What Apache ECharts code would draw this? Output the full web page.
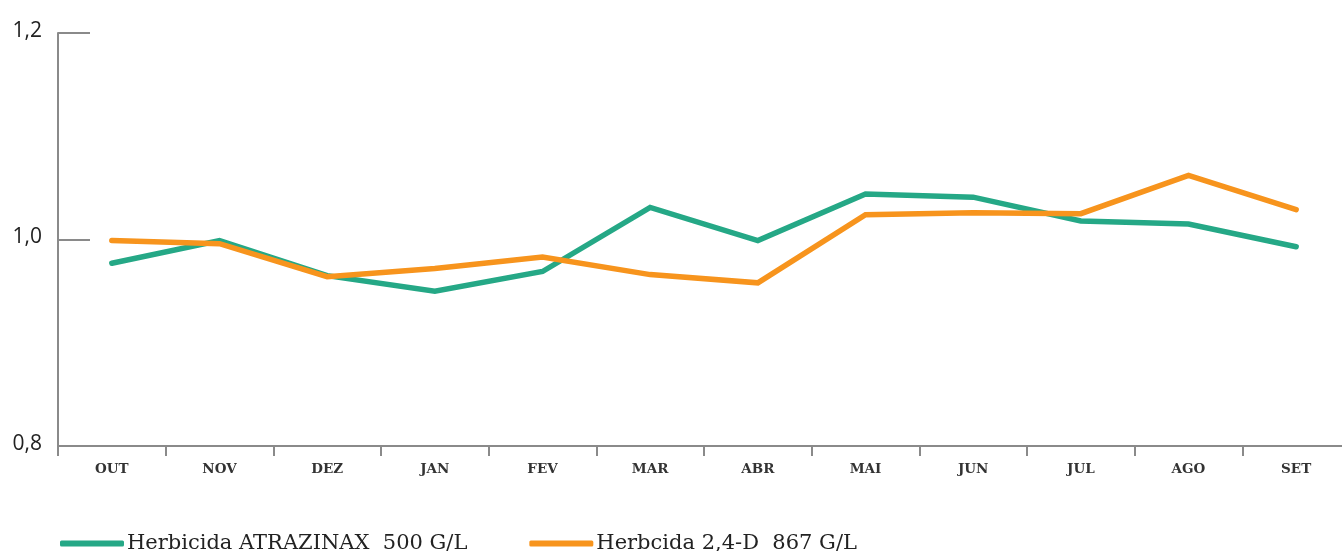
<!DOCTYPE html>
<html>
<head>
<meta charset="utf-8">
<script src="https://cdn.jsdelivr.net/npm/echarts@6/dist/echarts.min.js"></script>
<style>
  html, body { margin: 0; padding: 0; background: #fff; }
  #chart { width: 1342px; height: 551px; }
</style>
</head>
<body>
<div id="chart"></div>
<script>
// Monthly index values for two herbicides
const months = ['OUT', 'NOV', 'DEZ', 'JAN', 'FEV', 'MAR', 'ABR', 'MAI', 'JUN', 'JUL', 'AGO', 'SET'];
const atrazinax = [0.977, 0.999, 0.965, 0.950, 0.969, 1.031, 0.999, 1.044, 1.041, 1.018, 1.015, 0.993];
const d24 = [0.999, 0.996, 0.964, 0.972, 0.983, 0.966, 0.958, 1.024, 1.026, 1.025, 1.062, 1.029];
const seriesNames = ['Herbicida ATRAZINAX  500 G/L', 'Herbcida 2,4-D  867 G/L'];
const yTicks = { min: 0.8, max: 1.2, interval: 0.2 };

const GREEN = '#25a886';
const ORANGE = '#f7941d';
const AXIS = '#8a8a8a';

const chart = echarts.init(document.getElementById('chart'));
chart.setOption({
  animation: false,
  grid: { left: 58, width: 1292, top: 33, height: 413, outerBoundsMode: 'none', containLabel: false },
  legend: {
    left: 55, top: 528,
    icon: 'roundRect',
    itemWidth: 64, itemHeight: 6, itemGap: 62,
    textStyle: { fontFamily: 'DejaVu Serif', fontSize: 21, color: '#222', padding: [0, 0, 0, -2] },
    data: seriesNames
  },
  xAxis: {
    type: 'category',
    data: months,
    boundaryGap: true,
    axisLine: { lineStyle: { color: AXIS, width: 2 } },
    axisTick: { show: true, length: 10, lineStyle: { color: AXIS, width: 2 } },
    axisLabel: {
      margin: 16,
      fontFamily: 'DejaVu Serif', fontWeight: 'bold', fontSize: 13.5, color: '#333'
    }
  },
  yAxis: {
    type: 'value',
    min: yTicks.min, max: yTicks.max, interval: yTicks.interval,
    splitLine: { show: false },
    axisLine: { show: true, lineStyle: { color: AXIS, width: 2 } },
    axisTick: { show: true, inside: true, length: 32, lineStyle: { color: AXIS, width: 2 } },
    axisLabel: {
      margin: 16,
      fontFamily: 'Open Sans', fontSize: 21, color: '#222',
      verticalAlign: 'bottom', lineHeight: 4,
      formatter: v => v.toFixed(1).replace('.', ',')
    }
  },
  series: [
    {
      name: seriesNames[0], type: 'line', data: atrazinax,
      showSymbol: false, symbol: 'none', z: 2,
      lineStyle: { color: GREEN, width: 5.5, cap: 'round', join: 'miter' },
      itemStyle: { color: GREEN }
    },
    {
      name: seriesNames[1], type: 'line', data: d24,
      showSymbol: false, symbol: 'none', z: 3,
      lineStyle: { color: ORANGE, width: 5.5, cap: 'round', join: 'miter' },
      itemStyle: { color: ORANGE }
    }
  ]
});
</script>
</body>
</html>
